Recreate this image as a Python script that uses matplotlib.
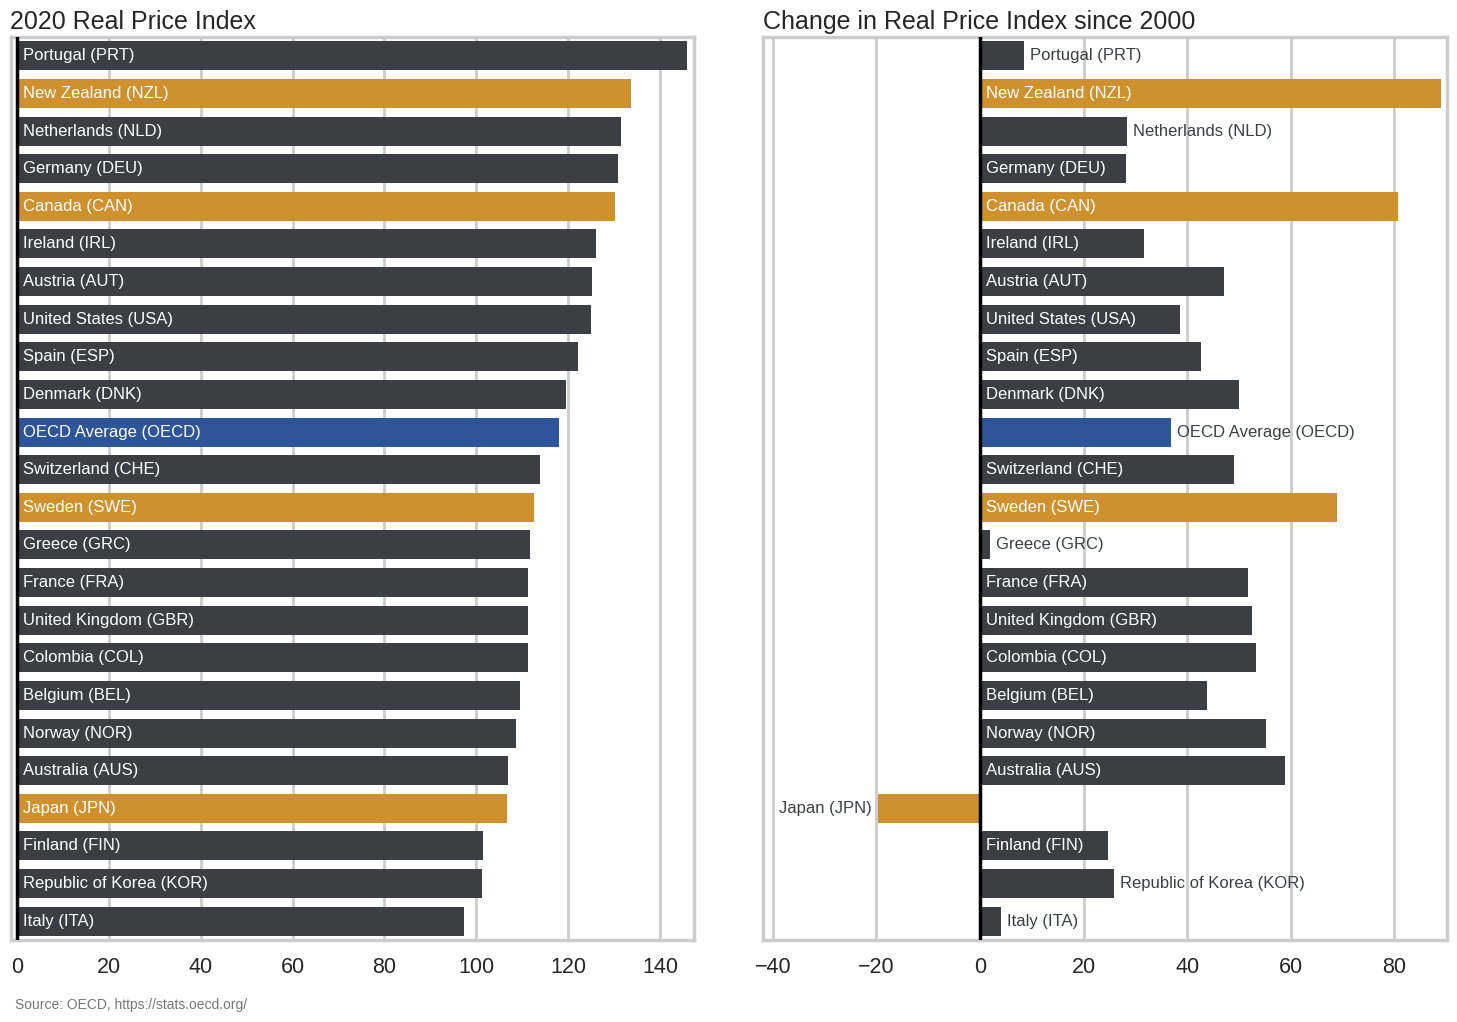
import matplotlib
matplotlib.use("Agg")
import matplotlib.pyplot as plt
import numpy as np

plt.rcParams['font.family'] = ['Liberation Sans', 'DejaVu Sans']

countries = ["Portugal (PRT)", "New Zealand (NZL)", "Netherlands (NLD)", "Germany (DEU)",
             "Canada (CAN)", "Ireland (IRL)", "Austria (AUT)", "United States (USA)",
             "Spain (ESP)", "Denmark (DNK)", "OECD Average (OECD)", "Switzerland (CHE)",
             "Sweden (SWE)", "Greece (GRC)", "France (FRA)", "United Kingdom (GBR)",
             "Colombia (COL)", "Belgium (BEL)", "Norway (NOR)", "Australia (AUS)",
             "Japan (JPN)", "Finland (FIN)", "Republic of Korea (KOR)", "Italy (ITA)"]
price_2020 = [145.9, 133.7, 131.5, 130.9, 130.2, 126.1, 125.2, 125.0, 122.1, 119.5,
              118.0, 113.9, 112.6, 111.7, 111.3, 111.3, 111.3, 109.5, 108.6, 106.9,
              106.7, 101.5, 101.2, 97.3]
change_since_2000 = [8.5, 89.1, 28.4, 28.2, 80.8, 31.7, 47.1, 38.6, 42.7, 50.0,
                     36.9, 49.1, 69.0, 1.9, 51.8, 52.6, 53.3, 43.9, 55.3, 58.9,
                     -19.7, 24.7, 25.9, 4.1]
highlighted = ["New Zealand (NZL)", "Canada (CAN)", "Sweden (SWE)", "Japan (JPN)"]
average = ["OECD Average (OECD)"]

DARK = "#3b3f43"
ORANGE = "#cf912e"
BLUE = "#2e5599"
GRID = "#cccccc"

colors = [ORANGE if c in highlighted else (BLUE if c in average else DARK) for c in countries]

fig = plt.figure(figsize=(14.57, 10.22), dpi=100)
ax1 = fig.add_axes([11/1457, 1-940/1022, (694-11)/1457, (940-37)/1022])
ax2 = fig.add_axes([763/1457, 1-940/1022, (1447-763)/1457, (940-37)/1022])

ypos = np.arange(len(countries))

def style(ax, xlim, ticks):
    ax.set_facecolor("white")
    ax.set_xlim(*xlim)
    ax.set_ylim(len(countries) - 0.5, -0.5)
    ax.set_xticks(ticks)
    ax.set_yticks([])
    ax.xaxis.grid(True, color=GRID, linewidth=2, zorder=0)
    ax.set_axisbelow(True)
    for s in ax.spines.values():
        s.set_color(GRID)
        s.set_linewidth(2.5)
    ax.tick_params(axis='x', length=0, pad=12.5, labelsize=15.5, labelcolor="#262626")
    ax.axvline(0, color="black", linewidth=2.5, zorder=3)

style(ax1, (-1.3, 147.4), [0, 20, 40, 60, 80, 100, 120, 140])
style(ax2, (-41.9, 90.2), [-40, -20, 0, 20, 40, 60, 80])

ax1.barh(ypos, price_2020, height=0.77, color=colors, zorder=2)
ax2.barh(ypos, change_since_2000, height=0.77, color=colors, zorder=2)

ax1.set_title("2020 Real Price Index", loc="left", fontsize=18, color="#262626", pad=6, x=-0.002)
ax2.set_title("Change in Real Price Index since 2000", loc="left", fontsize=18, color="#262626", pad=6)

fig.text(15/1457, 1-1005/1022, "Source: OECD, https://stats.oecd.org/", fontsize=10,
         color="#777777", va="center", ha="left")

fig.canvas.draw()
renderer = fig.canvas.get_renderer()

def label_bars(ax, values):
    for y, v, name in zip(ypos, values, countries):
        sign = 1 if v >= 0 else -1
        t = ax.annotate(name, xy=(0, y), xytext=(4.2 * sign, 0), textcoords="offset points",
                        ha="left" if sign > 0 else "right", va="center",
                        fontsize=12, color="white", zorder=4)
        w = t.get_window_extent(renderer).width
        x0 = ax.transData.transform((0, y))[0]
        x1 = ax.transData.transform((v, y))[0]
        barw = abs(x1 - x0)
        if w + 20 > barw:
            t.xy = (v, y)
            t.set_color("#3b3f43")

label_bars(ax1, price_2020)
label_bars(ax2, change_since_2000)

fig.savefig("out.png", dpi=100)
